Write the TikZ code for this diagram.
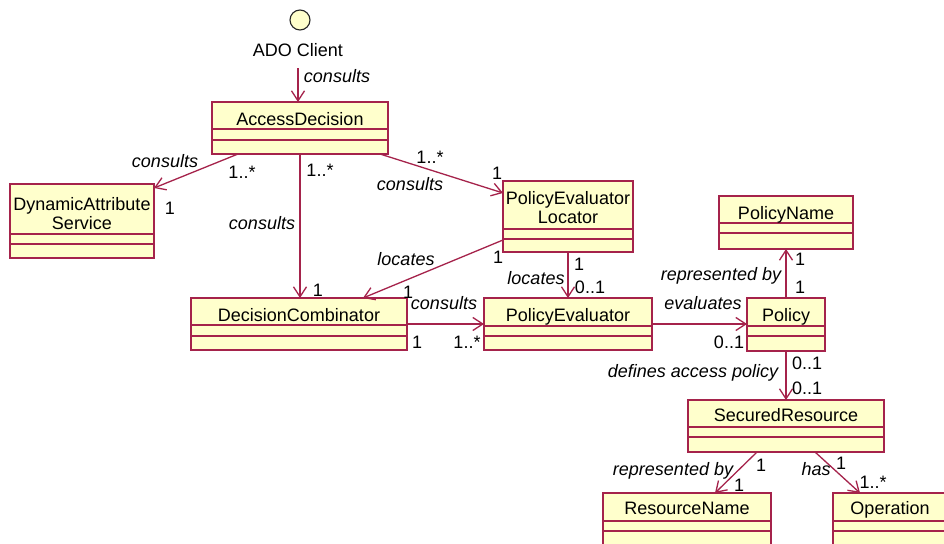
\documentclass[tikz,border=0pt]{standalone}
\usepackage{fontspec}
\setmainfont{Liberation Sans}
\usetikzlibrary{arrows.meta,calc}
\definecolor{umlline}{RGB}{165,35,75}
\definecolor{umlfill}{RGB}{255,255,204}
\tikzset{
  classbox/.style={rectangle, draw=umlline, fill=umlfill, line width=1.3pt, inner sep=0pt, outer sep=0pt},
  divider/.style={draw=umlline, line width=1.3pt},
  txt/.style={font=\fontsize{18}{19}\selectfont, inner sep=0pt},
  classtitle/.style={txt, text height=12.9pt, text depth=0pt},
  classtitletwo/.style={txt, align=center},
  assoc/.style={draw=umlline, line width=1.3pt, -{Straight Barb[length=10pt,width=13pt,line width=1.3pt]}},
  rolelabel/.style={txt, font=\fontsize{18}{19}\selectfont\itshape, text height=12.9pt, text depth=0pt},
  mult/.style={txt, text height=12.9pt, text depth=0pt},
}
% name, x1, y1, x2, y2, divider1, divider2, title y, title
\newcommand\umlclass[9]{%
  \node[classbox, minimum width={#4-#2}, minimum height={#5-#3}] (#1) at ({(#2+#4)/2},{(#3+#5)/2}) {};
  \draw[divider] (#1.west |- 0,#6) -- (#1.east |- 0,#6);
  \draw[divider] (#1.west |- 0,#7) -- (#1.east |- 0,#7);
  \node[classtitle] (#1t) at ({(#2+#4)/2},#8) {#9};
}
\begin{document}
\begin{tikzpicture}[x=1pt,y=-1pt]
\useasboundingbox (0,0) rectangle (944,543);
\fill[white] (0,0) rectangle (944,543);

% actor
\node[circle, draw=black!85, fill=umlfill, line width=1.1pt, minimum size=20pt, inner sep=0pt] (ado) at (300,20) {};
\node[txt, text height=12.9pt, text depth=0pt] (adot) at (298,50) {ADO Client};

% classes
\umlclass{AD}{212}{102}{388}{154}{129}{140}{119}{AccessDecision}
\begingroup
\tikzset{classtitle/.style={classtitletwo}}
\umlclass{DAS}{10}{184}{154}{258}{234}{244}{214}{DynamicAttribute\\Service}
\umlclass{PEL}{503}{181}{633}{252}{229}{239}{208}{PolicyEvaluator\\Locator}
\endgroup
\umlclass{PN}{719}{196}{853}{249}{223}{233}{213}{PolicyName}
\umlclass{DC}{191}{298}{407}{350}{325}{336}{315}{DecisionCombinator}
\umlclass{PE}{484}{298}{652}{350}{326}{336}{315}{PolicyEvaluator}
\umlclass{POL}{747}{298}{825}{351}{326}{336}{315}{Policy}
\umlclass{SR}{688}{400}{884}{452}{427}{437}{415}{SecuredResource}
\umlclass{RN}{603}{493}{771}{565}{521}{531}{508}{ResourceName}
\umlclass{OP}{833}{493}{947}{565}{521}{531}{508}{Operation}

% connectors
\draw[assoc] (adot.south |- 0,68) -- (AD.north -| adot.south);
\draw[assoc] ($(AD.south west)+(26,0)$) -- ($(DAS.north east)+(0,4)$);
\draw[assoc] (AD.south) -- (DC.north -| AD.south);
\draw[assoc] ($(AD.south east)+(-8,0)$) -- (PEL.west |- 0,193);
\draw[assoc] (PEL.west |- 0,240) -- ($(DC.north west)+(172,0)$);
\draw[assoc] (DC.east |- 0,324) -- (PE.west |- 0,324);
\draw[assoc] (PEL.south) -- (PE.north);
\draw[assoc] (PE.east |- 0,324) -- (POL.west |- 0,324);
\draw[assoc] (POL.north) -- (PN.south -| POL.north);
\draw[assoc] (POL.south) -- (SR.north -| POL.south);
\draw[assoc] ($(SR.south west)+(69,0)$) -- ($(RN.north west)+(112,0)$);
\draw[assoc] ($(SR.south west)+(127,0)$) -- ($(OP.north west)+(27,0)$);

% role labels
\node[rolelabel] at (337,76) {consults};
\node[rolelabel] at (165,161) {consults};
\node[rolelabel] at (262,223) {consults};
\node[rolelabel] at (410,184) {consults};
\node[rolelabel] at (406,259) {locates};
\node[rolelabel] at (444,303) {consults};
\node[rolelabel] at (536,278) {locates};
\node[rolelabel] at (703,303) {evaluates};
\node[rolelabel] at (721,274) {represented by};
\node[rolelabel] at (693,371) {defines access policy};
\node[rolelabel] at (673,469) {represented by};
\node[rolelabel] at (816,469) {has};

% multiplicities
\node[mult] at (242,172) {1..*};
\node[mult] at (170,208) {1};
\node[mult] at (320,170) {1..*};
\node[mult] at (318,290) {1};
\node[mult] at (430,157) {1..*};
\node[mult] at (497,173) {1};
\node[mult] at (498,257) {1};
\node[mult] at (408,292) {1};
\node[mult] at (417,342) {1};
\node[mult] at (467,342) {1..*};
\node[mult] at (579,264) {1};
\node[mult] at (590,287) {0..1};
\node[mult] at (729,342) {0..1};
\node[mult] at (800,259) {1};
\node[mult] at (800,287) {1};
\node[mult] at (807,363) {0..1};
\node[mult] at (807,388) {0..1};
\node[mult] at (761,465) {1};
\node[mult] at (739,485) {1};
\node[mult] at (841,463) {1};
\node[mult] at (873,482) {1..*};
\end{tikzpicture}
\end{document}
